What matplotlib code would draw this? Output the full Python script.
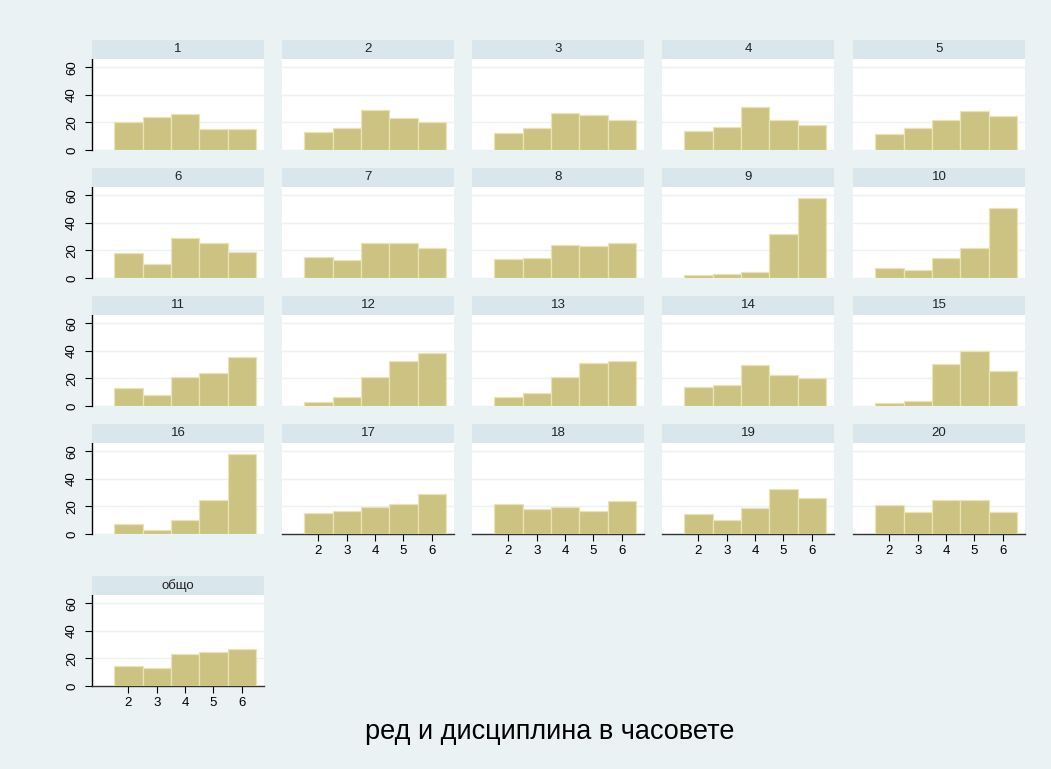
import numpy as np
import matplotlib.pyplot as plt

plt.rcParams['font.family'] = ['Liberation Sans', 'DejaVu Sans']

# percent per grade (2..6) for each group
grades = [2, 3, 4, 5, 6]
panel_names = [str(i) for i in range(1, 21)] + ['общо']
percents = [
    [20.1, 24.0, 26.1, 15.5, 15.5],
    [13.1, 16.0, 29.0, 23.0, 20.6],
    [12.0, 15.8, 27.1, 25.2, 21.5],
    [13.5, 16.9, 31.2, 21.5, 18.1],
    [11.6, 16.0, 21.5, 28.1, 24.7],
    [17.8, 9.8, 29.0, 25.1, 19.0],
    [14.9, 13.4, 25.6, 25.1, 21.5],
    [13.9, 14.4, 23.9, 23.2, 25.1],
    [2.0, 3.2, 4.6, 32.0, 58.0],
    [7.3, 5.6, 14.4, 22.0, 51.0],
    [13.0, 8.1, 21.1, 24.2, 35.5],
    [2.9, 6.4, 21.3, 32.6, 38.2],
    [6.8, 9.5, 20.8, 30.9, 32.6],
    [13.7, 15.2, 29.4, 22.5, 20.3],
    [2.0, 3.4, 30.1, 40.2, 25.7],
    [7.0, 3.1, 10.1, 24.6, 57.8],
    [15.2, 16.6, 19.8, 21.7, 28.9],
    [21.9, 17.9, 19.6, 16.6, 23.9],
    [14.7, 10.1, 18.8, 33.0, 25.8],
    [20.7, 15.7, 24.8, 24.8, 15.9],
    [14.5, 13.3, 23.2, 24.7, 26.9],
]
yticks = [0, 20, 40, 60]
xlabel = 'ред и дисциплина в часовете'

W, H = 1051, 769
bg = '#EAF2F3'
strip_c = '#D9E6EB'
bar_c = '#CCC382'
edge_c = '#E9E4B6'

fig = plt.figure(figsize=(W / 100, H / 100), dpi=100, facecolor=bg)

col_left = [92, 282, 472, 662, 853]
panel_w = 172
row_strip_top = [40, 168, 296, 424, 576]
strip_h = 19
plot_h = 91

ncols = 5
n = len(panel_names)
for k in range(n):
    r, c = divmod(k, ncols)
    x0 = col_left[c]
    st = row_strip_top[r]
    pt = st + strip_h
    pb = pt + plot_h
    ax = fig.add_axes([x0 / W, 1 - pb / H, panel_w / W, plot_h / H])
    ax.set_facecolor('white')
    ax.bar(grades, percents[k], width=1.0, color=bar_c, edgecolor=edge_c,
           linewidth=0.9, zorder=3)
    ax.set_xlim(0.72, 6.78)
    ax.set_ylim(0, 66)
    ax.set_yticks(yticks)
    ax.grid(axis='y', color=bg, linewidth=1.0, zorder=0)
    for s in ['top', 'right']:
        ax.spines[s].set_visible(False)

    # y axis only on first column
    if c == 0:
        ax.spines['left'].set_color('black')
        ax.spines['left'].set_linewidth(1.0)
        ax.tick_params(axis='y', length=5, width=0.8, labelsize=9.5, pad=5)
        for lab in ax.get_yticklabels():
            lab.set_rotation(90)
            lab.set_va('center')
    else:
        ax.spines['left'].set_visible(False)
        ax.tick_params(axis='y', left=False, labelleft=False)

    # x axis only where nothing sits below
    below = k + ncols
    if below >= n:
        ax.set_xticks(grades)
        ax.spines['bottom'].set_color('#333333')
        ax.spines['bottom'].set_linewidth(1.0)
        ax.tick_params(axis='x', length=5, width=0.8, labelsize=9.5, pad=3)
    else:
        ax.spines['bottom'].set_visible(False)
        ax.set_xticks([])

    # strip with panel name
    sax = fig.add_axes([x0 / W, 1 - pt / H, panel_w / W, strip_h / H])
    sax.set_facecolor(strip_c)
    sax.set_xticks([])
    sax.set_yticks([])
    for s in sax.spines.values():
        s.set_visible(False)
    sax.text(0.5, 0.5, panel_names[k], ha='center', va='center',
             fontsize=9.5, color='#222222', transform=sax.transAxes)

fig.text(550 / W, 1 - 732 / H, xlabel, ha='center', va='center',
         fontsize=19.5, color='black')

fig.savefig('out.png', dpi=100, facecolor=bg)
